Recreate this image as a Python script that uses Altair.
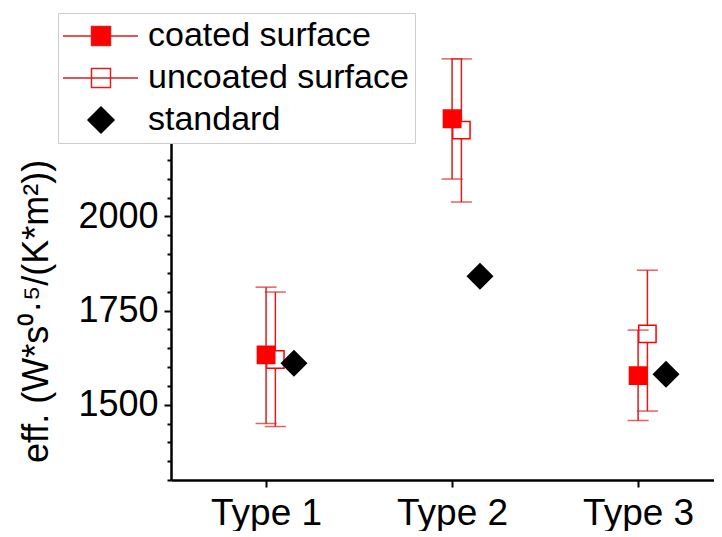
import json
import altair as alt
import pandas as pd

# ---------------- data ----------------
types = ["Type 1", "Type 2", "Type 3"]
type_pos = [1, 2, 3]

coated = [1632, 2259, 1577]
coated_lo = [1450, 2099, 1458]
coated_hi = [1812, 2418, 1698]

uncoated = [1620, 2229, 1688]
uncoated_lo = [1442, 2038, 1483]
uncoated_hi = [1799, 2418, 1857]

standard = [1610, 1841, 1581]

series_names = ["coated surface", "uncoated surface", "standard"]
y_tick_values = list(range(1300, 2501, 50))

# ---------------- styling ----------------
RED = "#ff0000"
ERR = "#d81e1e"
OFFSETS = {"coated surface": 0.0, "uncoated surface": 0.05, "standard": 0.15}


def points(name, vals):
    return pd.DataFrame({
        "x": [p + OFFSETS[name] for p in type_pos],
        "y": vals,
        "series": name,
    })


def bars(name, lo, hi):
    return pd.DataFrame({
        "x": [p + OFFSETS[name] for p in type_pos],
        "lo": lo,
        "hi": hi,
        "series": name,
    })


def caps(name, lo, hi):
    xs = [p + OFFSETS[name] for p in type_pos]
    return pd.DataFrame({"x": xs + xs, "y": list(lo) + list(hi), "series": name})


x_scale = alt.Scale(domain=[0.489, 3.408], nice=False, zero=False)
y_scale = alt.Scale(domain=[1300, 2500], nice=False, zero=False)

label_js = json.dumps(types)
x_axis = alt.Axis(
    values=type_pos,
    labelExpr=f"{label_js}[datum.value - 1]",
    tickSize=7,
    labelPadding=8,
    labelFontSize=37,
    title=None,
)

y_title = "eff. (W*s\u2070\u00b7\u2075/(K*m\u00b2))"
y_axis = alt.Axis(
    values=y_tick_values,
    format="d",
    labelExpr="(datum.value % 250 === 0 && datum.value <= 2000) ? datum.label : ''",
    tickSize={"condition": {"test": "datum.value % 250 === 0", "value": 7}, "value": 4},
    labelPadding=6,
    labelFontSize=36,
    titleFontSize=36,
    titleX=-116,
    titleY=283,
)

X = alt.X("x:Q", scale=x_scale, axis=x_axis)


def Yq(field):
    return alt.Y(f"{field}:Q", scale=y_scale, axis=y_axis, title=y_title)


# legend symbols (line + symbol like the original)
P_COATED = "M-1.2,0H0.7M1.967,0H3.8M0.7,-0.633H1.967V0.633H0.7Z"
P_UNCOATED = "M-1.2,0H3.8M0.7,-0.633H1.967V0.633H0.7Z"
P_STANDARD = "M0.467,0L1.333,-0.867L2.2,0L1.333,0.867Z"

legend = alt.Legend(
    title=None,
    orient="none",
    legendX=-113,
    legendY=-15,
    fillColor="white",
    strokeColor="#cccccc",
    padding=6,
    rowPadding=8,
    labelFontSize=34,
    labelOffset=50,
    labelLimit=400,
    symbolSize=900,
    symbolStrokeWidth=1.5,
)

fill_enc = alt.Fill("series:N", scale=alt.Scale(domain=series_names, range=[RED, "white", "black"]), legend=legend)
stroke_enc = alt.Stroke("series:N", scale=alt.Scale(domain=series_names, range=[ERR, ERR, "black"]), legend=legend)
shape_enc = alt.Shape("series:N", scale=alt.Scale(domain=series_names, range=[P_COATED, P_UNCOATED, P_STANDARD]), legend=legend)

# legend-only layer: points placed below the visible y range and clipped away
legend_df = pd.DataFrame({"x": [1, 1, 1], "y": [1000, 1000, 1000], "series": series_names})
legend_layer = alt.Chart(legend_df).mark_point(clip=True, strokeWidth=1.5, opacity=1, fillOpacity=1).encode(
    x=X, y=Yq("y"), fill=fill_enc, stroke=stroke_enc, shape=shape_enc)


def err_layers(name, lo, hi):
    rule = alt.Chart(bars(name, lo, hi)).mark_rule(color=ERR, strokeWidth=1.5).encode(
        x=X, y=Yq("lo"), y2=alt.Y2("hi:Q"))
    tick = alt.Chart(caps(name, lo, hi)).mark_tick(
        color=ERR, orient="horizontal", size=21, thickness=1.5).encode(x=X, y=Yq("y"))
    return [rule, tick]


def marker_layer(name, vals, shape, fill, stroke, size):
    return alt.Chart(points(name, vals)).mark_point(
        shape=shape, fill=fill, stroke=stroke, fillOpacity=1, strokeOpacity=1,
        size=size, strokeWidth=1.5, opacity=1).encode(x=X, y=Yq("y"))


layers = [legend_layer]
layers += err_layers("uncoated surface", uncoated_lo, uncoated_hi)
layers.append(marker_layer("uncoated surface", uncoated, "square", "white", RED, 300))
layers += err_layers("coated surface", coated_lo, coated_hi)
layers.append(marker_layer("coated surface", coated, "square", RED, RED, 300))
layers.append(marker_layer("standard", standard, "diamond", "black", "black", 620))

chart = alt.layer(*layers).properties(
    width=543,
    height=452,
    padding={"left": 9, "top": 4, "right": 0, "bottom": 0},
).configure_view(stroke=None).configure_axis(
    domainColor="black",
    domainWidth=2.5,
    tickColor="black",
    tickWidth=2,
    grid=False,
    labelColor="black",
    titleColor="black",
    labelFont="Liberation Sans",
    titleFont="Liberation Sans",
    titleFontWeight="normal",
).configure_legend(
    labelFont="Liberation Sans",
    labelColor="black",
)

chart.save("out.html", embed_options={"renderer": "svg", "actions": False})
